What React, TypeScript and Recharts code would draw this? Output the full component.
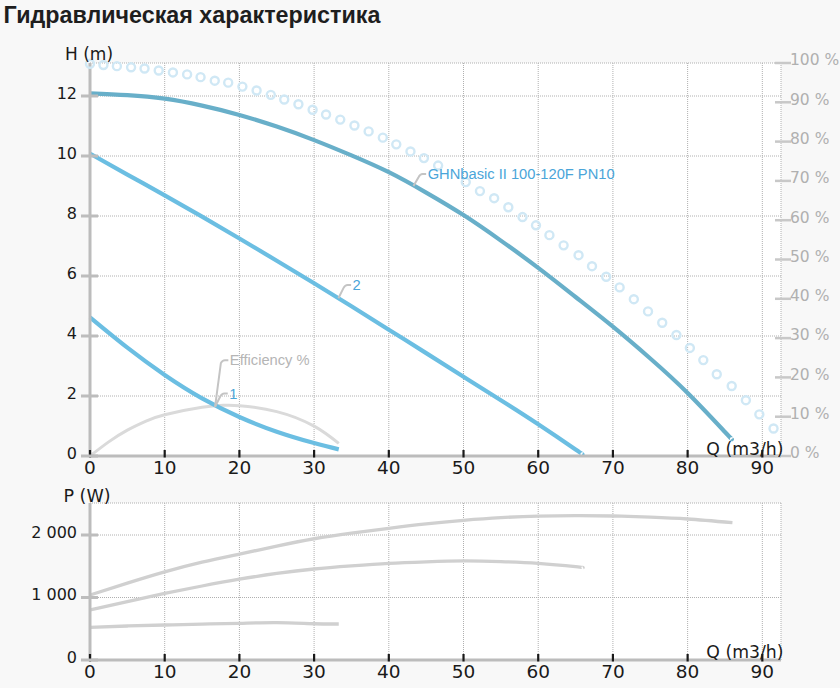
import React from 'react';
import { ComposedChart, Line, XAxis, YAxis, CartesianGrid, ReferenceDot } from 'recharts';

const AXIS_FONT = '"DejaVu Sans", Verdana, sans-serif';
const LABEL_FONT = '"Liberation Sans", Arial, sans-serif';

const Q_TICKS = [0, 10, 20, 30, 40, 50, 60, 70, 80, 90];
const H_TICKS = [0, 2, 4, 6, 8, 10, 12];
const PCT_TICKS = [0, 10, 20, 30, 40, 50, 60, 70, 80, 90, 100];
const P_TICKS = [0, 1000, 2000];

// H(Q), m
const headMain = [
  { q: 0, h: 12.09 }, { q: 5, h: 12.03 }, { q: 10, h: 11.91 }, { q: 15, h: 11.68 },
  { q: 20, h: 11.37 }, { q: 25, h: 10.98 }, { q: 30, h: 10.53 }, { q: 35, h: 10.02 },
  { q: 40, h: 9.46 }, { q: 45, h: 8.78 }, { q: 50, h: 8.03 }, { q: 55, h: 7.18 },
  { q: 60, h: 6.27 }, { q: 65, h: 5.3 }, { q: 70, h: 4.31 }, { q: 75, h: 3.25 },
  { q: 80, h: 2.1 }, { q: 85, h: 0.8 }, { q: 85.9, h: 0.57 },
];

const head2 = [
  { q: 0, h: 10.08 }, { q: 5, h: 9.38 }, { q: 10, h: 8.69 }, { q: 15, h: 7.98 },
  { q: 20, h: 7.25 }, { q: 25, h: 6.51 }, { q: 30, h: 5.76 }, { q: 35, h: 4.99 },
  { q: 40, h: 4.21 }, { q: 45, h: 3.43 }, { q: 50, h: 2.64 }, { q: 55, h: 1.86 },
  { q: 60, h: 1.06 }, { q: 65, h: 0.22 }, { q: 65.9, h: 0.06 },
];

const head1 = [
  { q: 0, h: 4.62 }, { q: 5, h: 3.61 }, { q: 10, h: 2.7 }, { q: 15, h: 1.92 },
  { q: 20, h: 1.3 }, { q: 25, h: 0.81 }, { q: 30, h: 0.43 }, { q: 33.3, h: 0.22 },
];

// efficiency, %
const efficiency1 = [
  { q: 0, pct: 0 }, { q: 2.5, pct: 3.6 }, { q: 5, pct: 6.6 }, { q: 7.5, pct: 8.9 },
  { q: 10, pct: 10.5 }, { q: 15, pct: 12.4 }, { q: 18, pct: 12.9 }, { q: 20, pct: 12.8 },
  { q: 25, pct: 11.3 }, { q: 30, pct: 7.6 }, { q: 33.3, pct: 3.2 },
];

const efficiencyMain = [
  { q: 0, pct: 99.8 }, { q: 1.8, pct: 99.5 }, { q: 3.6, pct: 99.2 }, { q: 5.5, pct: 98.9 },
  { q: 7.3, pct: 98.6 }, { q: 9.2, pct: 98.1 }, { q: 11.1, pct: 97.6 }, { q: 13.0, pct: 97.1 },
  { q: 14.8, pct: 96.4 }, { q: 16.7, pct: 95.5 }, { q: 18.5, pct: 95.0 }, { q: 20.4, pct: 94.0 },
  { q: 22.3, pct: 93.0 }, { q: 24.2, pct: 91.9 }, { q: 26.0, pct: 90.7 }, { q: 27.9, pct: 89.5 },
  { q: 29.8, pct: 88.1 }, { q: 31.6, pct: 86.9 }, { q: 33.5, pct: 85.6 }, { q: 35.4, pct: 84.1 },
  { q: 37.3, pct: 82.6 }, { q: 39.2, pct: 81.0 }, { q: 41.0, pct: 79.3 }, { q: 42.9, pct: 77.5 },
  { q: 44.7, pct: 75.8 }, { q: 46.6, pct: 73.9 }, { q: 50.3, pct: 69.7 }, { q: 52.2, pct: 67.4 },
  { q: 54.1, pct: 65.6 }, { q: 56.0, pct: 63.3 }, { q: 57.9, pct: 60.8 }, { q: 59.7, pct: 58.7 },
  { q: 61.5, pct: 56.2 }, { q: 63.4, pct: 53.6 }, { q: 65.4, pct: 51.1 }, { q: 67.2, pct: 48.3 },
  { q: 69.1, pct: 45.6 }, { q: 70.9, pct: 42.9 }, { q: 72.8, pct: 39.9 }, { q: 74.7, pct: 36.8 },
  { q: 76.6, pct: 33.9 }, { q: 78.5, pct: 30.8 }, { q: 80.3, pct: 27.5 }, { q: 82.1, pct: 24.4 },
  { q: 83.9, pct: 20.8 }, { q: 85.9, pct: 17.8 }, { q: 87.8, pct: 14.2 }, { q: 89.6, pct: 10.6 },
  { q: 91.5, pct: 7.0 },
];

// P(Q), W
const powerMain = [
  { q: 0, p: 1040 }, { q: 5, p: 1230 }, { q: 10, p: 1410 }, { q: 15, p: 1565 },
  { q: 20, p: 1695 }, { q: 25, p: 1822 }, { q: 30, p: 1940 }, { q: 35, p: 2030 },
  { q: 40, p: 2107 }, { q: 45, p: 2178 }, { q: 50, p: 2235 }, { q: 55, p: 2278 },
  { q: 60, p: 2302 }, { q: 65, p: 2310 }, { q: 70, p: 2304 }, { q: 75, p: 2285 },
  { q: 80, p: 2256 }, { q: 86, p: 2197 },
];

const power2 = [
  { q: 0, p: 800 }, { q: 5, p: 935 }, { q: 10, p: 1065 }, { q: 15, p: 1184 },
  { q: 20, p: 1293 }, { q: 25, p: 1385 }, { q: 30, p: 1456 }, { q: 35, p: 1505 },
  { q: 40, p: 1545 }, { q: 45, p: 1570 }, { q: 50, p: 1585 }, { q: 55, p: 1575 },
  { q: 60, p: 1547 }, { q: 65, p: 1493 }, { q: 66, p: 1477 },
];

const power1 = [
  { q: 0, p: 523 }, { q: 5, p: 544 }, { q: 10, p: 560 }, { q: 15, p: 575 },
  { q: 20, p: 587 }, { q: 25, p: 598 }, { q: 30, p: 580 }, { q: 33.3, p: 576 },
];

const curveLabels = [
  { q: 43.3, v: 9.0, axis: 'h', text: 'GHNbasic II 100-120F PN10' },
  { q: 33.25, v: 5.26, axis: 'h', text: '2' },
  { q: 16.74, v: 1.64, axis: 'h', text: '1' },
  { q: 16.74, v: 12.5, axis: 'pct', text: 'Efficiency %' },
];

const LABEL_STYLE: Record<string, { dx: number; dy: number; color: string }> = {
  'GHNbasic II 100-120F PN10': { dx: 6.7, dy: 12, color: '#4aa5d9' },
  '2': { dx: 6.7, dy: 13.3, color: '#4aa5d9' },
  '1': { dx: 6.7, dy: 13.3, color: '#4aa5d9' },
  'Efficiency %': { dx: 7.3, dy: 46.7, color: '#b5b5b5' },
};

const fmtP = (v: number) => (v >= 1000 ? `${v / 1000} 000` : `${v}`);

const XTick = ({ x, y, payload, off }: any) => (
  <g>
    <line x1={x} x2={x} y1={y - 6} y2={y + 1.5} stroke="#1a1a1a" strokeWidth={2.2} />
    <text x={x} y={y + off} textAnchor="middle" fontFamily={AXIS_FONT} fontSize={18.5} fill="#1a1a1a">
      {payload.value}
    </text>
  </g>
);

const LeftTick = ({ x, y, payload, fmt }: any) => (
  <g>
    <line x1={x - 9} x2={x + 8} y1={y} y2={y} stroke="#bdbdbd" strokeWidth={3} />
    <text x={x - 13} y={y + 2.5} textAnchor="end" fontFamily={AXIS_FONT} fontSize={16} fill="#1a1a1a">
      {fmt ? fmt(payload.value) : payload.value}
    </text>
  </g>
);

const RightTick = ({ x, y, payload }: any) => (
  <g>
    <line x1={x - 6} x2={x + 10} y1={y} y2={y} stroke="#c8c8c8" strokeWidth={2.5} />
    <text x={x + 9} y={y + 2.3} textAnchor="start" fontFamily={AXIS_FONT} fontSize={15.5} fill="#b0b0b0">
      {payload.value} %
    </text>
  </g>
);

const Leader = ({ cx, cy, text }: any) => {
  const s = LABEL_STYLE[text];
  if (cx == null || cy == null) return null;
  const ex = cx + s.dx;
  const ey = cy - s.dy;
  return (
    <g>
      <path
        d={`M${cx},${cy} L${ex - 1.5},${ey + 3} Q${ex},${ey} ${ex + 2.5},${ey} L${ex + 6},${ey}`}
        fill="none"
        stroke="#c4c4c4"
        strokeWidth={2}
      />
      <text x={ex + 7.5} y={ey + 5} fontFamily={LABEL_FONT} fontSize={14.7} fill={s.color}>
        {text}
      </text>
    </g>
  );
};

export default function App() {
  return (
    <div style={{ position: 'absolute', left: 0, top: 0, width: 840, height: 688, background: '#f8f8f8', overflow: 'hidden' }}>
      <div style={{ position: 'absolute', left: 0, top: 0 }}>
        <ComposedChart width={840} height={488} margin={{ top: 63, right: 0, bottom: 0, left: 0 }}>
          <CartesianGrid yAxisId="h" stroke="#b0b0b0" strokeDasharray="1 1" fill="#ffffff" />
          <XAxis
            dataKey="q"
            type="number"
            domain={[0, 92.5]}
            ticks={Q_TICKS}
            interval={0}
            height={32}
            tickSize={0}
            tickMargin={0}
            tickLine={false}
            axisLine={{ stroke: '#bcbcbc', strokeWidth: 3 }}
            tick={(p: any) => <XTick {...p} off={18} />}
          />
          <YAxis
            yAxisId="h"
            domain={[0, 13.1]}
            ticks={H_TICKS}
            interval={0}
            width={90}
            tickSize={0}
            tickMargin={0}
            tickLine={false}
            axisLine={{ stroke: '#bcbcbc', strokeWidth: 3 }}
            tick={(p: any) => <LeftTick {...p} />}
          />
          <YAxis
            yAxisId="pct"
            orientation="right"
            domain={[0, 100]}
            ticks={PCT_TICKS}
            interval={0}
            width={59}
            tickSize={0}
            tickMargin={0}
            tickLine={false}
            axisLine={false}
            tick={(p: any) => <RightTick {...p} />}
          />
          <Line yAxisId="h" data={headMain} dataKey="h" type="natural" stroke="#68afc9" strokeWidth={4.2} dot={false} activeDot={false} isAnimationActive={false} />
          <Line yAxisId="h" data={head2} dataKey="h" type="natural" stroke="#6bbee2" strokeWidth={4.2} dot={false} activeDot={false} isAnimationActive={false} />
          <Line yAxisId="pct" data={efficiency1} dataKey="pct" type="natural" stroke="#dadada" strokeWidth={3} dot={false} activeDot={false} isAnimationActive={false} />
          <Line yAxisId="h" data={head1} dataKey="h" type="natural" stroke="#6bbee2" strokeWidth={4.2} dot={false} activeDot={false} isAnimationActive={false} />
          <Line
            yAxisId="pct"
            data={efficiencyMain}
            dataKey="pct"
            stroke="none"
            strokeWidth={0}
            dot={{ r: 4, fill: 'none', stroke: '#d0e8f5', strokeWidth: 2.4 }}
            activeDot={false}
            isAnimationActive={false}
          />
          {curveLabels.map((l) => (
            <ReferenceDot
              key={l.text}
              x={l.q}
              y={l.v}
              yAxisId={l.axis}
              ifOverflow="visible"
              shape={(p: any) => <Leader {...p} text={l.text} />}
            />
          ))}
        </ComposedChart>
      </div>
      <div style={{ position: 'absolute', left: 0, top: 488 }}>
        <ComposedChart width={840} height={200} margin={{ top: 15, right: 59, bottom: 0, left: 0 }}>
          <CartesianGrid stroke="#b0b0b0" strokeDasharray="1 1" fill="#ffffff" />
          <XAxis
            dataKey="q"
            type="number"
            domain={[0, 92.5]}
            ticks={Q_TICKS}
            interval={0}
            height={28}
            tickSize={0}
            tickMargin={0}
            tickLine={false}
            axisLine={{ stroke: '#bcbcbc', strokeWidth: 3 }}
            tick={(p: any) => <XTick {...p} off={17.5} />}
          />
          <YAxis
            domain={[0, 2512]}
            ticks={P_TICKS}
            interval={0}
            width={90}
            tickSize={0}
            tickMargin={0}
            tickLine={false}
            axisLine={{ stroke: '#bcbcbc', strokeWidth: 3 }}
            tick={(p: any) => <LeftTick {...p} fmt={fmtP} />}
          />
          <Line data={powerMain} dataKey="p" type="natural" stroke="#d0d0d0" strokeWidth={3.3} dot={false} activeDot={false} isAnimationActive={false} />
          <Line data={power2} dataKey="p" type="natural" stroke="#d0d0d0" strokeWidth={3.3} dot={false} activeDot={false} isAnimationActive={false} />
          <Line data={power1} dataKey="p" type="natural" stroke="#d0d0d0" strokeWidth={3.3} dot={false} activeDot={false} isAnimationActive={false} />
        </ComposedChart>
      </div>
      <svg width={840} height={688} style={{ position: 'absolute', left: 0, top: 0, pointerEvents: 'none' }}>
        <text x={3.5} y={22.5} fontFamily={LABEL_FONT} fontWeight="bold" fontSize={23.3} fill="#1e1e1e">
          Гидравлическая характеристика
        </text>
        <text x={65} y={60} fontFamily={AXIS_FONT} fontSize={17} fill="#1a1a1a">H (m)</text>
        <text x={783.5} y={454.5} textAnchor="end" fontFamily={AXIS_FONT} fontSize={17.3} fill="#1a1a1a">Q (m3/h)</text>
        <text x={63.5} y={501.7} fontFamily={AXIS_FONT} fontSize={17.5} fill="#1a1a1a">P (W)</text>
        <text x={783.5} y={657.5} textAnchor="end" fontFamily={AXIS_FONT} fontSize={17.3} fill="#1a1a1a">Q (m3/h)</text>
      </svg>
    </div>
  );
}
